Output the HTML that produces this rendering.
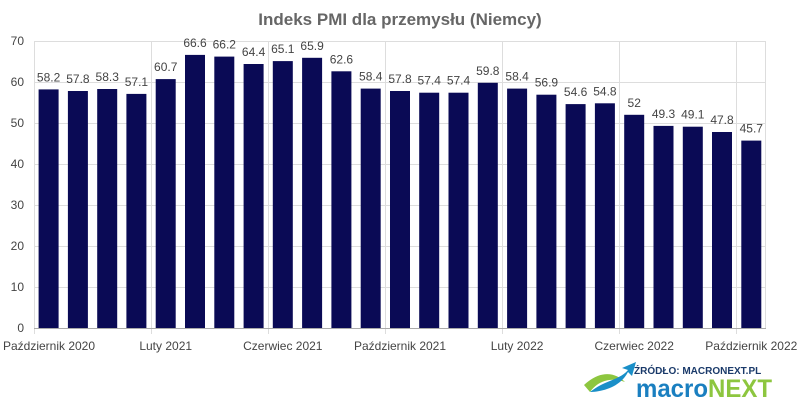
<!DOCTYPE html>
<html><head><meta charset="utf-8"><style>body{margin:0;background:#fff}svg{display:block}text{font-family:"Liberation Sans",sans-serif}</style></head><body>
<svg width="800" height="400" xmlns="http://www.w3.org/2000/svg">
<text x="400" y="25" text-anchor="middle" font-size="17" font-weight="bold" fill="#666">Indeks PMI dla przemysłu (Niemcy)</text>
<g stroke="#ddd" stroke-width="1">
<line x1="34" x2="766" y1="41.5" y2="41.5"/><line x1="34" x2="766" y1="82.5" y2="82.5"/><line x1="34" x2="766" y1="123.5" y2="123.5"/><line x1="34" x2="766" y1="164.5" y2="164.5"/><line x1="34" x2="766" y1="205.5" y2="205.5"/><line x1="34" x2="766" y1="246.5" y2="246.5"/><line x1="34" x2="766" y1="287.5" y2="287.5"/>
<line x1="34.5" x2="34.5" y1="41" y2="334"/><line x1="151.5" x2="151.5" y1="41" y2="334"/><line x1="268.5" x2="268.5" y1="41" y2="334"/><line x1="385.5" x2="385.5" y1="41" y2="334"/><line x1="502.5" x2="502.5" y1="41" y2="334"/><line x1="619.5" x2="619.5" y1="41" y2="334"/><line x1="736.5" x2="736.5" y1="41" y2="334"/><line x1="765.5" x2="765.5" y1="41" y2="328"/>
</g>
<line x1="34" x2="766" y1="328.5" y2="328.5" stroke="#aaa"/>
<g font-size="12" fill="#444" text-anchor="end">
<text x="24" y="45">70</text><text x="24" y="86">60</text><text x="24" y="127">50</text><text x="24" y="168">40</text><text x="24" y="209">30</text><text x="24" y="250">20</text><text x="24" y="291">10</text><text x="24" y="332">0</text>
</g>
<g fill="#0a0a55">
<rect x="38.6" y="89.4" width="20" height="238.6"/><rect x="67.9" y="91" width="20" height="237"/><rect x="97.2" y="89" width="20" height="239"/><rect x="126.4" y="93.9" width="20" height="234.1"/><rect x="155.7" y="79.1" width="20" height="248.9"/><rect x="185" y="54.9" width="20" height="273.1"/><rect x="214.3" y="56.6" width="20" height="271.4"/><rect x="243.6" y="64" width="20" height="264"/><rect x="272.8" y="61.1" width="20" height="266.9"/><rect x="302.1" y="57.8" width="20" height="270.2"/><rect x="331.4" y="71.3" width="20" height="256.7"/><rect x="360.7" y="88.6" width="20" height="239.4"/><rect x="390" y="91" width="20" height="237"/><rect x="419.2" y="92.7" width="20" height="235.3"/><rect x="448.5" y="92.7" width="20" height="235.3"/><rect x="477.8" y="82.8" width="20" height="245.2"/><rect x="507.1" y="88.6" width="20" height="239.4"/><rect x="536.4" y="94.7" width="20" height="233.3"/><rect x="565.6" y="104.1" width="20" height="223.9"/><rect x="594.9" y="103.3" width="20" height="224.7"/><rect x="624.2" y="114.8" width="20" height="213.2"/><rect x="653.5" y="125.9" width="20" height="202.1"/><rect x="682.8" y="126.7" width="20" height="201.3"/><rect x="712" y="132" width="20" height="196"/><rect x="741.3" y="140.6" width="20" height="187.4"/>
</g>
<g font-size="12" fill="#444" text-anchor="middle">
<text x="48.6" y="81.4">58.2</text><text x="77.9" y="83">57.8</text><text x="107.2" y="81">58.3</text><text x="136.4" y="85.9">57.1</text><text x="165.7" y="71.1">60.7</text><text x="195" y="46.9">66.6</text><text x="224.3" y="48.6">66.2</text><text x="253.6" y="56">64.4</text><text x="282.8" y="53.1">65.1</text><text x="312.1" y="49.8">65.9</text><text x="341.4" y="63.3">62.6</text><text x="370.7" y="80.6">58.4</text><text x="400" y="83">57.8</text><text x="429.2" y="84.7">57.4</text><text x="458.5" y="84.7">57.4</text><text x="487.8" y="74.8">59.8</text><text x="517.1" y="80.6">58.4</text><text x="546.4" y="86.7">56.9</text><text x="575.6" y="96.1">54.6</text><text x="604.9" y="95.3">54.8</text><text x="634.2" y="106.8">52</text><text x="663.5" y="117.9">49.3</text><text x="692.8" y="118.7">49.1</text><text x="722" y="124">47.8</text><text x="751.3" y="132.6">45.7</text>
</g>
<g font-size="12" fill="#444" text-anchor="middle">
<text x="49" y="350">Październik 2020</text><text x="165.7" y="350">Luty 2021</text><text x="282.8" y="350">Czerwiec 2021</text><text x="400" y="350">Październik 2021</text><text x="517.1" y="350">Luty 2022</text><text x="634.2" y="350">Czerwiec 2022</text><text x="751.3" y="350">Październik 2022</text>
</g>
<path d="M584 385 C600 370 615 372 625 382 C615 378 600 378 590 392 Z" fill="#8dc63f"/>
<path d="M590 392 C605 380 620 380 628 370 L622 368 L636 362 L632 376 L628 372 C620 388 600 392 590 392 Z" fill="#1a8fc8"/>
<text x="634" y="374" font-size="10" font-weight="bold" fill="#1a3a6a">ŹRÓDŁO: MACRONEXT.PL</text>
<text x="636" y="397" font-size="25" font-weight="bold" fill="#1a7fc0" textLength="136" lengthAdjust="spacingAndGlyphs">macro<tspan fill="#8dc63f">NEXT</tspan></text>
</svg>
</body></html>
